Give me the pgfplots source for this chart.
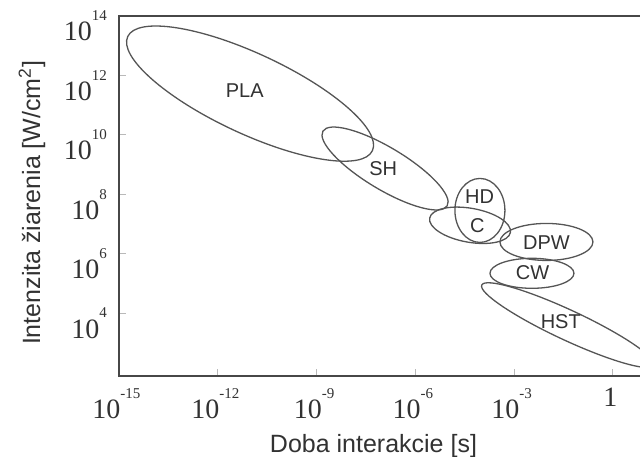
\documentclass[border=0pt]{standalone}
\usepackage{pgfplots}
\pgfplotsset{compat=1.18}
\usepackage{fontspec}
\setmainfont{Liberation Sans}
\newfontfamily\tnr{Liberation Serif}
\newcommand\tl[1]{10\raisebox{0.72em}{\fontsize{15}{15}\selectfont #1}}
\definecolor{ln}{RGB}{85,85,85}
\definecolor{tx}{RGB}{50,50,50}
\begin{document}
\begin{tikzpicture}
\useasboundingbox (0,0) rectangle (640pt,456pt);
\begin{axis}[
  at={(119pt,80pt)}, anchor=south west,
  scale only axis, width=526.9pt, height=360pt,
  xmode=log, ymode=log,
  xmin=1e-15, xmax=10, ymin=77.6, ymax=1e14,
  xtick={1e-15,1e-12,1e-9,1e-6,1e-3,1},
  xticklabels={\tl{-15},\tl{-12},\tl{-9},\tl{-6},\tl{-3},1},
  ytick={1e4,1e6,1e8,1e10,1e12,1e14},
  yticklabels={\tl{4},\tl{6},\tl{8},\tl{10},\tl{12},\tl{14}},
  minor tick style={draw=none},
  xtick pos=bottom, ytick pos=left,
  tick align=inside, major tick length=7pt,
  tick style={gray!55, line width=1pt},
  axis line style={black!72, line width=2pt},
  ticklabel style={font=\tnr\fontsize{28}{28}\selectfont, text=tx, inner sep=0pt},
  xticklabel style={anchor=north, yshift=-12pt, xshift=-2.5pt},
  yticklabel style={anchor=east, xshift=-12pt, yshift=-10pt},
  clip=true,
]
% ellipses: centre (x,y), semi-axes in pt, rotation
\draw[ln, line width=1.3pt, rotate around={-25:(axis cs:9.55e-12,2.45e11)}] (axis cs:9.55e-12,2.45e11) ellipse [x radius=135pt, y radius=40pt];
\draw[ln, line width=1.3pt, rotate around={-31:(axis cs:1.20e-7,7.41e8)}] (axis cs:1.20e-7,7.41e8) ellipse [x radius=72.5pt, y radius=21pt];
\draw[ln, line width=1.3pt] (axis cs:9.12e-5,2.88e7) ellipse [x radius=25pt, y radius=32pt];
\draw[ln, line width=1.3pt, rotate around={-10:(axis cs:4.57e-5,9.12e6)}] (axis cs:4.57e-5,9.12e6) ellipse [x radius=41pt, y radius=17pt];
\draw[ln, line width=1.3pt] (axis cs:9.55e-3,2.51e6) ellipse [x radius=46.5pt, y radius=18.5pt];
\draw[ln, line width=1.3pt] (axis cs:3.47e-3,2.21e5) ellipse [x radius=42pt, y radius=15pt];
\draw[ln, line width=1.3pt, rotate around={-25:(axis cs:4.27e-2,3.98e3)}] (axis cs:4.27e-2,3.98e3) ellipse [x radius=95pt, y radius=15pt];
% labels
\begin{scope}[every node/.style={font=\fontsize{20}{20}\selectfont, text=tx, inner sep=0pt}]
\node at (axis cs:6.6e-12,3.16e11) {PLA};
\node at (axis cs:1.05e-7,7.6e8) {SH};
\node at (axis cs:8.9e-5,8.3e7) {HD};
\node at (axis cs:7.6e-5,9.1e6) {C};
\node at (axis cs:9.6e-3,2.45e6) {DPW};
\node at (axis cs:3.6e-3,2.3e5) {CW};
\node at (axis cs:2.6e-2,5.3e3) {HST};
\end{scope}
\end{axis}
\node[anchor=base, font=\fontsize{25}{25}\selectfont, text=tx] at (373.5pt,4pt) {Doba interakcie [s]};
\node[anchor=base, rotate=90, font=\fontsize{25}{25}\selectfont, text=tx] at (40pt,253pt) {Intenzita žiarenia [W/cm\textsuperscript{2}]};
\end{tikzpicture}
\end{document}
